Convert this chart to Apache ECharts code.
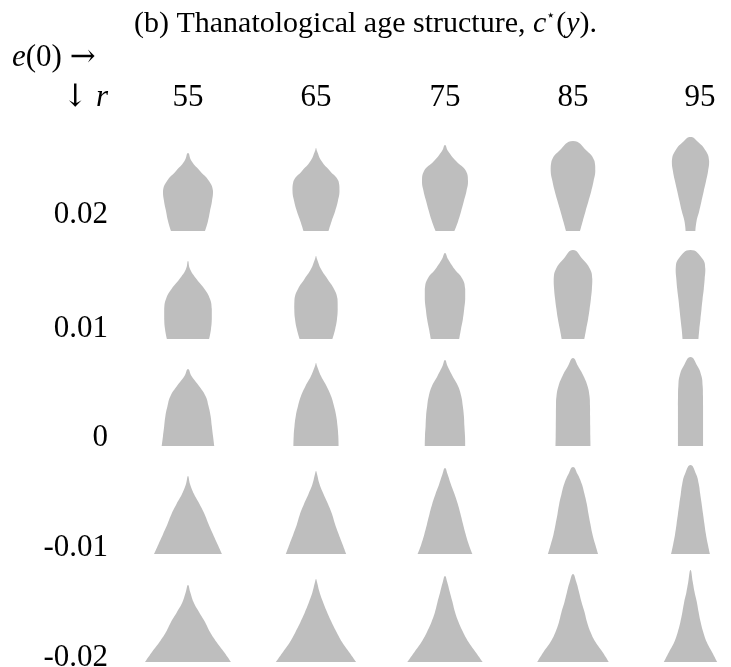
<!DOCTYPE html>
<html><head><meta charset="utf-8">
<script src="https://cdn.jsdelivr.net/npm/echarts@6/dist/echarts.min.js"></script>
<style>html,body{margin:0;padding:0;background:#fff}#c{width:731px;height:667px}</style>
</head><body><div id="c"></div>
<script>
// ---- data ----
const e0Labels = ['55', '65', '75', '85', '95'];
const rLabels = ['0.02', '0.01', '0', '-0.01', '-0.02'];
// remaining-life levels y at which the half-width of c*(y) was read
const levels = [0, 10, 20, 30, 40, 50, 60, 70, 80, 90];
// half-widths, one array per e(0) column (null = above the top)
const halfR002 = [
  [17, 20, 22, 24, 25, 21, 12, 3.5],
  [12.5, 15.7, 19.2, 21.9, 23.5, 22.5, 14, 5.5, 1],
  [9.4, 13.2, 16.2, 18.9, 21.5, 23, 21, 11, 3],
  [7, 9.8, 12.6, 15.5, 18.3, 20.6, 22.3, 21.5, 14],
  [6, 7.5, 10.8, 13.6, 16.4, 19.2, 21.7, 23, 19, 8]
];
const tipR002 = [78, 83, 86, 90, 94];
const halfR001 = [
  [21.1, 23, 23.8, 23.8, 22, 16.5, 8.5, 2],
  [16.4, 19.2, 21, 21.7, 21.5, 18, 11.5, 5, 1],
  [14.2, 16, 17.9, 19.2, 20.2, 20.2, 17.5, 9.5, 3],
  [11.3, 13.2, 15.1, 16.6, 17.9, 18.9, 19.3, 17, 9.5],
  [9.8, 10.9, 12.3, 13.6, 14.9, 16.4, 17.5, 18.3, 15]
];
const tipR001 = [78, 83, 86, 89, 89];
const halfR000 = [
  [26.3, 25, 23.8, 22.6, 20.5, 17.5, 11, 3.5],
  [22.6, 22.3, 21.5, 20.2, 18, 15, 10.5, 5, 1],
  [20.2, 20, 19.4, 18.9, 17.8, 16.2, 13, 7.5, 2.5],
  [17.5, 17.3, 17.2, 17.1, 17, 16.5, 14.5, 10.5, 5],
  [15.5, 15.5, 15.5, 15.5, 15.5, 15.4, 15, 13.5, 8.5]
];
const tipR000 = [77, 83, 86, 88, 89];
const halfRm001 = [
  [34, 29.4, 24.9, 20.5, 16.5, 11.5, 6, 2],
  [30.2, 26.4, 22.6, 19, 16, 12, 7.5, 3.5, 1],
  [27.4, 23.6, 20.6, 18, 15.5, 12.8, 9.5, 5.8, 2.5],
  [25.1, 22.1, 19.4, 17.4, 15.5, 13.8, 11.5, 8.8, 4.5],
  [24, 21.3, 19, 17.2, 15.5, 13.8, 12, 10.2, 6.8]
];
const tipRm001 = [78, 83, 86, 87, 89];
const halfRm002 = [
  [43, 36, 28.5, 22, 17, 11, 5.5, 2.2],
  [40.2, 33, 26, 20.5, 15.5, 11, 7, 3.5, 1],
  [37.7, 30.5, 23.5, 18, 13.5, 10, 7.5, 4.8, 2.2],
  [35.8, 29.5, 22.5, 17.5, 14, 11.5, 8.5, 6, 3.3],
  [33, 26.5, 20, 15.7, 12.5, 10, 7.8, 5, 2.8]
];
const tipRm002 = [77, 83, 86, 88, 92];

const rows = [
  { half: halfR002, tip: tipR002 },
  { half: halfR001, tip: tipR001 },
  { half: halfR000, tip: tipR000 },
  { half: halfRm001, tip: tipRm001 },
  { half: halfRm002, tip: tipRm002 }
];

// ---- layout ----
const colCenters = [188, 316, 445, 573, 700];
const rowBases = [231, 339, 446, 554, 662];
const rowLabelY = [215, 329, 438, 548, 658];
const cellHalfW = 50, cellH = 100;
const FONT = "'Liberation Serif', 'DejaVu Serif', serif";
const ARROW_FONT = "'DejaVu Serif', serif";
const GRAY = '#bebebe';
const LABEL_SIZE = 31;

const grids = [], xAxes = [], yAxes = [], series = [];
rows.forEach((row, i) => {
  e0Labels.forEach((lab, j) => {
    const k = grids.length;
    grids.push({ left: colCenters[j] - cellHalfW, top: rowBases[i] - cellH, width: 2 * cellHalfW, height: cellH });
    xAxes.push({ type: 'value', gridIndex: k, min: -cellHalfW, max: cellHalfW, show: false });
    yAxes.push({ type: 'value', gridIndex: k, min: 0, max: cellH, show: false });
    const hw = row.half[j], tip = row.tip[j];
    series.push({
      type: 'custom', xAxisIndex: k, yAxisIndex: k, silent: true, clip: false,
      data: [[0, 0]],
      renderItem: function (params, api) {
        const left = [], right = [];
        levels.forEach((h, n) => {
          const w = hw[n];
          if (w === undefined || w === null) return;
          left.push(api.coord([-w, h]));
          right.unshift(api.coord([w, h]));
        });
        const pts = left.concat([api.coord([0, tip])], right);
        let mnx = Infinity, mny = Infinity, mxx = -Infinity, mxy = -Infinity;
        pts.forEach(p => { mnx = Math.min(mnx, p[0]); mny = Math.min(mny, p[1]); mxx = Math.max(mxx, p[0]); mxy = Math.max(mxy, p[1]); });
        return {
          type: 'polyline',
          shape: { points: pts, smooth: 0.5, smoothConstraint: [[mnx, mny], [mxx, mxy]] },
          style: { fill: GRAY, stroke: null, lineWidth: 0 }
        };
      }
    });
  });
});

const graphics = [];
const txt = (text, x, y, align) => graphics.push({
  type: 'text', x: x, y: y, silent: true,
  style: { text: text, fontFamily: FONT, fontSize: LABEL_SIZE, fill: '#000', align: align, verticalAlign: 'middle',
    rich: {
      i: { fontFamily: FONT, fontSize: LABEL_SIZE, fontStyle: 'italic' },
      a: { fontFamily: ARROW_FONT, fontSize: LABEL_SIZE }
    } }
});
e0Labels.forEach((lab, j) => txt(lab, colCenters[j], 98, 'center'));
rLabels.forEach((lab, i) => txt(lab, 108, rowLabelY[i], 'right'));
txt('{i|e}(0) {a|\u2192}', 12, 58, 'left');
txt('{a|\u2193} {i|r}', 108, 98, 'right');

const chart = echarts.init(document.getElementById('c'), null, { renderer: 'canvas' });
chart.setOption({
  animation: false,
  backgroundColor: '#fff',
  title: {
    text: '(b) Thanatological age structure, {i|c}{s|\u22c6}({i|y}).',
    left: 'center', top: 4,
    textStyle: {
      fontFamily: FONT, fontSize: 30, fontWeight: 'normal', color: '#000',
      rich: {
        i: { fontFamily: FONT, fontSize: 30, fontStyle: 'italic', color: '#000' },
        s: { fontFamily: "'DejaVu Serif', serif", fontSize: 15, color: '#000', verticalAlign: 'top', padding: [0, 1, 0, 0] }
      }
    }
  },
  grid: grids, xAxis: xAxes, yAxis: yAxes, series: series,
  graphic: graphics
});
</script></body></html>
